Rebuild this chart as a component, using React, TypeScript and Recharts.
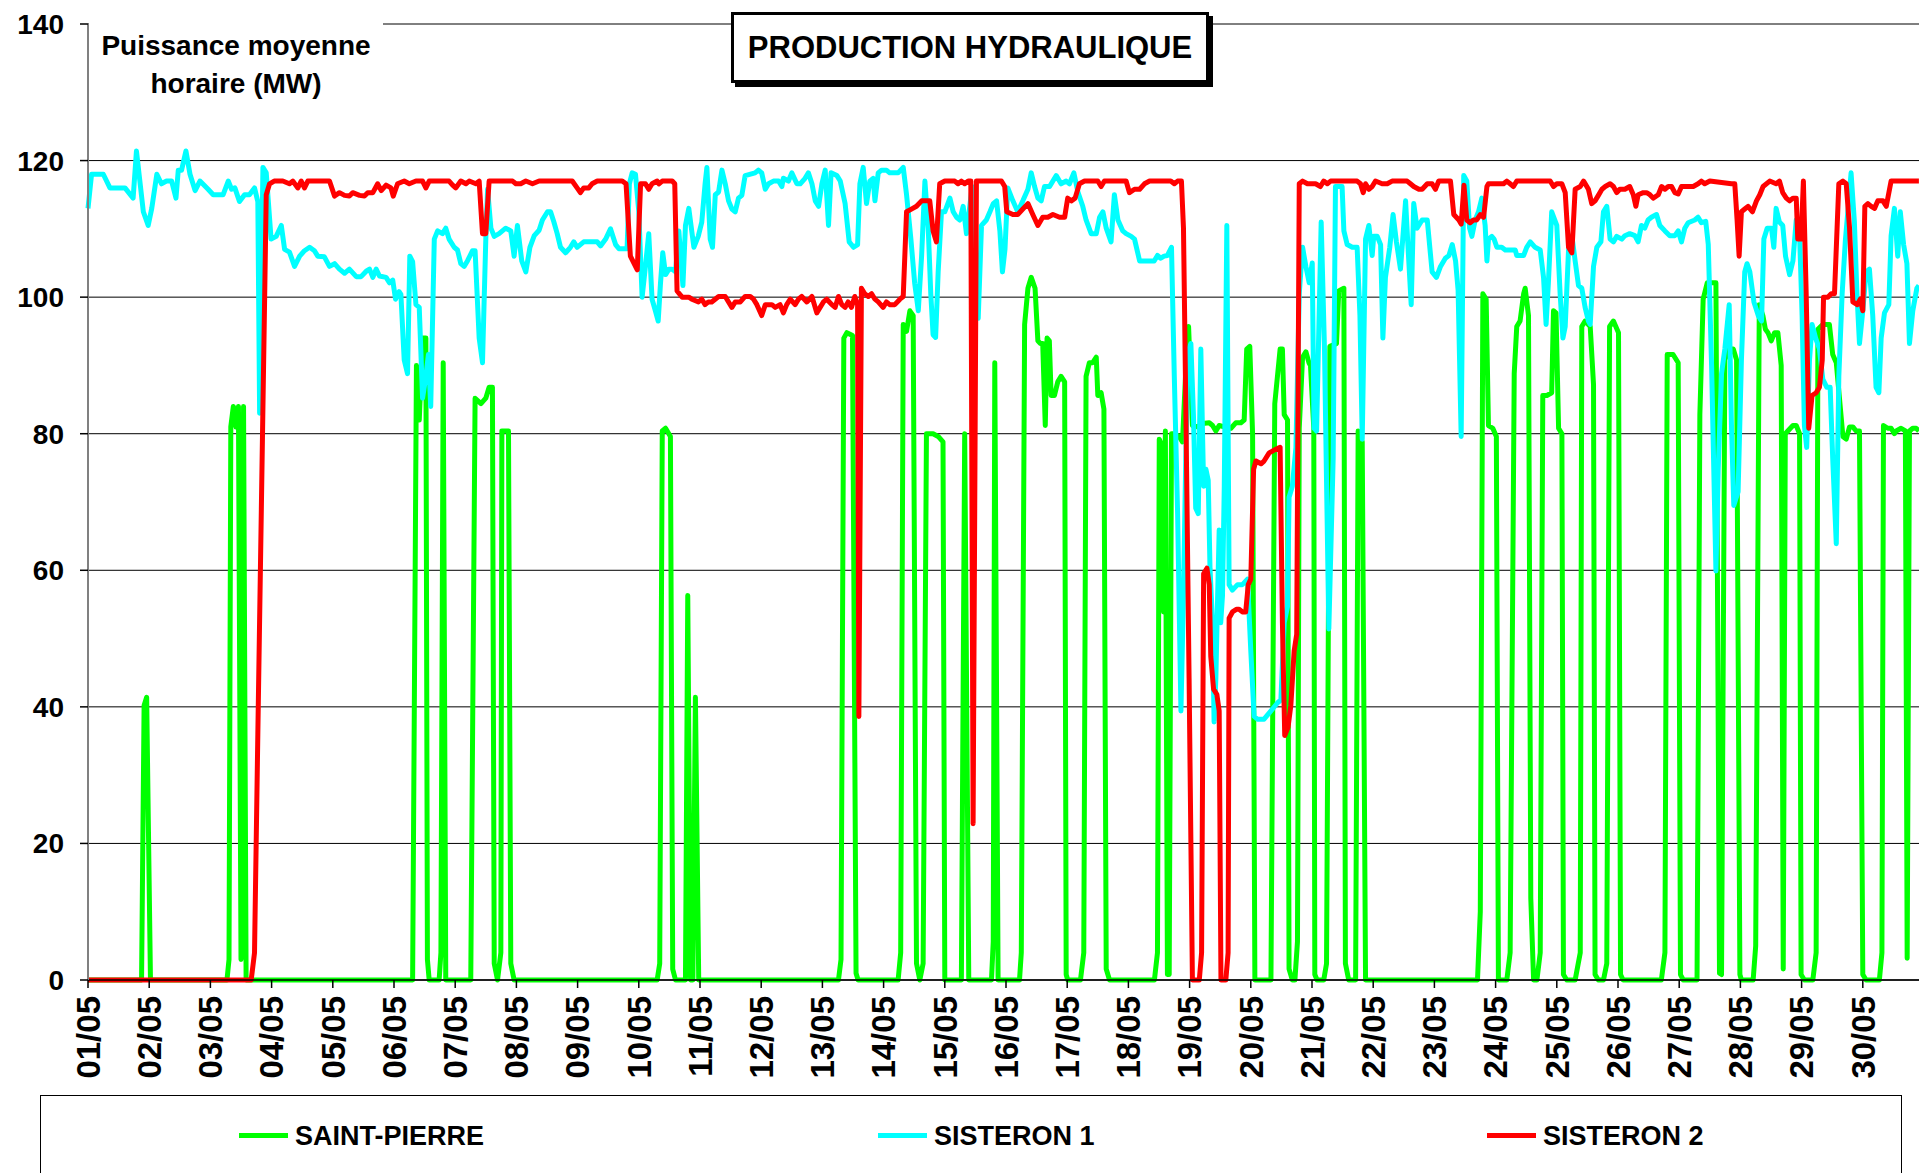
import * as React from 'react';
import { LineChart, Line, XAxis, YAxis, CartesianGrid } from 'recharts';

// hours since 01/05 00:00 -> MW
const saintPierre: [number, number][] = [
  [0, 0], [21, 0], [22, 40.2], [23, 41.4], [24.5, 0], [54.5, 0], [55.3, 3], [56, 81], [57, 84], [58, 81], [59, 84], [60, 3], [61, 84], [62, 0],
  [127.3, 0], [128.8, 90], [129.9, 82], [131.2, 94], [132.5, 94], [133.1, 3], [133.8, 0], [137.7, 0], [138.4, 4], [139.3, 90.4], [140.3, 0],
  [150.1, 0], [151.8, 85.2], [154.1, 84.4], [156, 85.2], [157.3, 86.8], [158.6, 86.8], [159.3, 2.4], [160.6, 0], [161.9, 4], [162.3, 80.4], [164.9, 80.4], [165.8, 2.4], [167.1, 0],
  [223.2, 0], [224.2, 2.4], [225.2, 80.4], [226.5, 80.8], [228.4, 79.6], [229.3, 1.6], [230.4, 0], [234.3, 0], [235.2, 56.3], [236.3, 0], [237.2, 0], [238.2, 41.4], [239.5, 0],
  [294.3, 0], [295.3, 3], [296.4, 94], [297.6, 94.8], [299.8, 94.4], [301.2, 1], [302, 0],
  [317.7, 0], [318.7, 4], [319.7, 96], [321, 95], [322.3, 98], [323.6, 97.3], [324.9, 2.4], [326.2, 0], [327.5, 2.4], [328.8, 80], [331.4, 80], [333.4, 79.6], [335.3, 78.8], [336, 0],
  [342.5, 0], [343.8, 80], [345.4, 0], [354.3, 0], [355, 5.6], [355.6, 90.4], [356.9, 0],
  [365.3, 0], [366, 4], [367.3, 96], [368.6, 101.3], [369.9, 102.9], [371.4, 101.3], [372.5, 93.6], [373.5, 93.2], [374.4, 93.2], [375.4, 81.2], [376.1, 94], [377, 93.6], [377.7, 85.6], [379, 85.6], [380.3, 87.6], [381.6, 88.4], [383, 87.6], [383.6, 0.8], [384.2, 0],
  [389.2, 0], [390.5, 4], [391.4, 88.4], [392.7, 90.4], [394, 90.4], [395.4, 91.2], [396, 85.6], [397.3, 86], [398.4, 83.6], [399.3, 1.6], [400.6, 0],
  [418.2, 0], [419.4, 4], [420.1, 79.2], [421, 78.4], [421.8, 53.9], [422.5, 80.4], [423.3, 0.8], [424, 0.8], [424.9, 80], [426, 80], [427.9, 79.6], [429.2, 78.8], [430.6, 90], [431.6, 95.7], [433.1, 81.2],
  [435.1, 81], [437.1, 81.5], [439.7, 81.6], [441, 81.2], [442.3, 80.4], [443.6, 81.2], [445.6, 81], [448.2, 80.8], [450.1, 81.6], [452.1, 81.6], [453.4, 82], [454.4, 92.4], [455.6, 92.8], [456.7, 80], [457.6, 0],
  [463.9, 0], [465.4, 84.4], [467.5, 92.4], [468.4, 92.4], [469.1, 82.8], [470.4, 82], [471, 1.6], [472.3, 0], [473.3, 0], [474.3, 5.6], [475, 80.8], [476.3, 91.2], [477.6, 92], [478.8, 90.4], [479.4, 90], [480.7, 80.8], [481.1, 0.8], [482, 0],
  [484.6, 0], [485.7, 2.4], [487, 92.8], [489.6, 93.2], [490.5, 100.9], [492.5, 101.3], [493.1, 2.4], [494.4, 0], [497.1, 0], [498.1, 80.4], [499.7, 78.8], [501, 0],
  [544.9, 0], [546, 10], [547, 100.5], [548.3, 99.7], [549.2, 81.2], [550.9, 80.8], [552.3, 79.6], [553.1, 0], [556.4, 0], [557.7, 4], [559.3, 88.8], [560.3, 95.7], [561.6, 96.5], [563, 100.5], [563.6, 101.3], [564.9, 97.3], [565.8, 12], [566.9, 0],
  [568.2, 0], [569.5, 4], [570.5, 85.6], [572.1, 85.6], [574, 86], [574.7, 98], [575.7, 97.7], [576.7, 80.8], [578, 80], [578.6, 0.8], [579.9, 0], [583.2, 0], [585.2, 4], [585.8, 95.7], [587.1, 96.5], [589.1, 95.7], [590.4, 87.2], [591, 0.8], [592.3, 0],
  [594.3, 0], [595.6, 2.4], [596.7, 95.7], [598.2, 96.5], [600.2, 94.8], [601, 0.8], [602, 0], [617, 0], [618.4, 4], [619.3, 91.6], [621.6, 91.6], [623.6, 90.4], [624.5, 0.8], [625.6, 0],
  [631, 0], [632.1, 82.8], [633.4, 99.7], [635, 102.1], [638.4, 102.1], [639.8, 1], [640.6, 0.8], [641.9, 90.8], [643.2, 92.4], [645.2, 92.4], [646.5, 90.8], [647.8, 0.8], [648.4, 0], [653, 0], [654, 5],
  [655.4, 98.9], [656.8, 97.3], [657.8, 95.3], [658.8, 94.8], [660.1, 93.6], [661.4, 94.8], [662.7, 94.8], [664, 90], [664.8, 1.6], [665.6, 80], [666.6, 80.4], [668.6, 81.2], [669.9, 81.2], [671.2, 80], [671.8, 0.8], [673.1, 0],
  [676.4, 0], [677.7, 4], [678.4, 95.3], [680.3, 96], [682.9, 96], [684.2, 91.6], [685.6, 90.4], [688.2, 79.6], [689.5, 79.2], [690.8, 81], [692.1, 81], [693.4, 80.4], [694.7, 80.4], [696, 0.8], [697.3, 0],
  [702.5, 0], [703.5, 4], [704.1, 81.2], [705.8, 80.8], [707.1, 80.8], [708.4, 80], [709.1, 80.4], [711, 80.8], [712.7, 80.4], [713.4, 3.2], [714.3, 80.4], [715.6, 80.8], [716.9, 80.8], [718, 80.4],
];

const sisteron1: [number, number][] = [
  [0, 113], [1.4, 118], [6, 118], [8.6, 116], [14.5, 116], [17.7, 114.5], [19, 121.4], [21.7, 112.5], [23.6, 110.5], [25, 113], [27, 118], [28.8, 116.6], [30.8, 117], [32.8, 117], [34.5, 114.5], [35.4, 118.6], [36.7, 118.6], [38.4, 121.4], [40, 118], [42, 115.6], [43.9, 117], [47.1, 115.8], [49.1, 115], [53, 115], [55, 117], [56.3, 115.8], [57.6, 116],
  [59.4, 114], [61.4, 115], [63.3, 115], [65.3, 116], [66.6, 114], [67.3, 83], [68.6, 119], [69.9, 118.2], [71.8, 108.5], [73.8, 108.9], [75.8, 110.5], [77.1, 107], [79, 106.6], [81, 104.5], [83, 106], [84.9, 106.8], [86.9, 107.3], [88.8, 106.8], [90.1, 106], [92.7, 105.9], [94.7, 104.5],
  [96.7, 104.9], [98.6, 104.1], [100.6, 103.5], [102.5, 104.1], [105.2, 103], [107.1, 103], [109.1, 103.8], [110.4, 104.1], [111.7, 102.9], [113, 104.1], [114.3, 103.1], [116.9, 102.9], [118.2, 102.1], [119.5, 102.5], [120.6, 99.7],
  [122, 100.8], [122.7, 100.4], [124, 90.8], [125.3, 88.8], [126.2, 106], [127.3, 105.2], [128.6, 98.9], [129.9, 98.5], [131.2, 85.2], [132.5, 88.4], [133.5, 91.6], [134.4, 84], [135.8, 108.5], [137.1, 109.7], [139, 109.3], [140.3, 110.1], [141.6, 108.5], [143.6, 107.3], [144.9, 106.9], [146.2, 104.9], [147.5, 104.5], [148.8, 105.3],
  [150.8, 106.8], [151.8, 106.8], [153.4, 94], [154.7, 90.4], [156, 108.5], [156.7, 115.8], [158, 110.1], [159.3, 108.9], [161.2, 109.3], [162.5, 109.7], [163.8, 110.1], [165.8, 109.7], [167.1, 106], [168.4, 110.5], [170.1, 105.3], [171.7, 103.7], [173.3, 107.3], [175, 109], [176.9, 109.8], [178.2, 111.3], [180.2, 112.5],
  [181.4, 112.5], [182.7, 111], [184, 109.3], [185.3, 107.3], [187.3, 106.5], [189.2, 107.3], [190.5, 108.1], [191.8, 107.3], [193.1, 107.7], [194.4, 108.1], [199.7, 108.1], [201, 107.5], [203, 108.5], [204.9, 110], [206.9, 107.7], [208.2, 107.1], [211.4, 107.1], [212.3, 116.6], [213.4, 118.2], [214.7, 118],
  [216, 112.5], [217.3, 100], [218.6, 104.5], [219.9, 109.3], [221.2, 99.7], [222.5, 98], [223.6, 96.5], [224.5, 102], [225.4, 106.5], [226.5, 103.3], [227.8, 104.1], [229.1, 104.1], [230.4, 103.7], [231.7, 109.7], [233.3, 101.7], [234.3, 110.5], [235.6, 113], [237.6, 107.3], [239.3, 108.9], [240.7, 111], [242, 116.6], [242.7, 119],
  [244, 108.5], [244.9, 107.3], [246, 115], [247.3, 115.4], [248.6, 118.6], [249.9, 116.6], [251.2, 114.1], [252.5, 112.9], [253.8, 112.5], [255.1, 114.5], [256.4, 114.9], [257.7, 117.8], [261.6, 118.2], [262.9, 118.6], [264.2, 118.2], [265.6, 115.8], [266.9, 116.6], [268.8, 117], [270.8, 117], [272.1, 116.2], [272.7, 117.4],
  [274.7, 117], [276, 118.2], [278, 116.6], [279.3, 116.6], [281.2, 117.4], [282.5, 118.2], [283.9, 116.6], [285.2, 114.1], [286.5, 113.3], [287.8, 116.6], [289.1, 118.6], [290.4, 110.5], [291.4, 118.2], [293.7, 117.8], [295, 117], [296.9, 113.7], [298.5, 108.1], [300.2, 107.3], [301.8, 107.7],
  [302.7, 116.6], [304, 119], [305.3, 113.7], [306.6, 117], [307.9, 117.4], [308.6, 114.1], [309.9, 118.2], [311.2, 118.6], [313.1, 118.6], [314.4, 118.2], [317.7, 118.2], [319.7, 119], [321, 115], [322.7, 108.5], [324.2, 102], [325.6, 98], [326.9, 106], [328.2, 117], [329.5, 110.1], [330.5, 100.5], [331.4, 94.5], [332.4, 94.1],
  [333.4, 103.7], [334.7, 112.5], [336, 112.5], [338, 114.5], [339.3, 112.5], [340.6, 111.7], [341.9, 111.3], [343.2, 113.3], [344.5, 109.3], [345.8, 113.3], [346.7, 116.2], [347.8, 108.5], [349.1, 96.9], [350.4, 110.5], [352.3, 111.3], [353.7, 112.5], [355, 113.7], [356.3, 114.1], [357.6, 109.7], [358.6, 103.7], [359.6, 107],
  [360.7, 116], [362.7, 114.1], [364.6, 112.5], [366.6, 114.1], [368.6, 115.8], [369.9, 118.2], [371.2, 116.2], [372.5, 114.5], [373.8, 114.1], [375.1, 116.2], [377.1, 116.2], [378.4, 117], [379.7, 117.8], [381.6, 116.6], [383.6, 117], [384.9, 116.6], [386.6, 118.2], [388.2, 115.4], [390.1, 113.3], [391.4, 111.3],
  [393.4, 109.3], [395.4, 109.3], [396.7, 111.7], [398, 112.5], [399.3, 110.1], [401.2, 108.1], [402.5, 115], [403.9, 111.3], [405.8, 109.7], [407.1, 109.3], [409.1, 108.9], [410.4, 108.5], [412.4, 105.3], [414.3, 105.3], [416.3, 105.3], [418.1, 105.3], [419.4, 106.1], [420.7, 105.7], [422, 106], [423.3, 106.1], [424.9, 107.3],
  [426, 88.4], [427.3, 68.3], [428.6, 39.4], [429.5, 54.7], [430.5, 76.4], [431.4, 92], [432.5, 93.2], [433.5, 82.8], [434.4, 69.1], [435.4, 68.3], [436.4, 92.4], [437.5, 72.3], [438.4, 74.8], [439.3, 73.2], [440, 60.3], [441, 52.3], [441.6, 37.8], [442.3, 44.2], [443, 56.3], [443.6, 65.9], [444.2, 52.3], [444.9, 56.3], [445.6, 72.3],
  [446.6, 110.5], [447.5, 57.9], [448.8, 57.1], [450.8, 57.9], [452.7, 57.9], [454.7, 58.7], [456, 48.2], [457.3, 38.6], [458.6, 38.2], [461.2, 38.2], [463.9, 39.4], [466.5, 40.6], [467.8, 41], [469.1, 52.3], [470.4, 54.7], [471, 70.7], [472.3, 72.3], [473.7, 78], [475, 100.5], [476.3, 107.3], [477.6, 104.5], [478.9, 102.1], [480.1, 105],
  [480.8, 80.8], [481.8, 80.4], [483.6, 111], [484.9, 92.4], [486.6, 51.4], [488.3, 76.4], [489.2, 116.2], [491.8, 116.2], [492.5, 109.7], [493.8, 107.7], [495.8, 107.3], [497.7, 107.3], [498.8, 97.3], [499.7, 79.2], [501, 108.5], [502.3, 110.5], [503.6, 106.1], [504.2, 108.9], [505.6, 108.9], [506.9, 107.7], [507.8, 94],
  [508.8, 102.9], [510.5, 107.3], [511.8, 112.1], [513.1, 108.1], [514.7, 104.1], [516.7, 114.1], [517.6, 107.7], [518.9, 98.9], [519.9, 113.7], [521.2, 110.1], [523.2, 111.3], [525.2, 111.3], [527.1, 103.7], [528.8, 102.9], [530.4, 104.5], [532.3, 105.7], [533.7, 106.1], [535, 107.7], [536.3, 105.3], [537.3, 101],
  [538.5, 79.6], [539.5, 117.8], [540.7, 117], [541.8, 110.1], [542.7, 108.9], [544, 111.3], [545.3, 112.5], [546.6, 114.5], [547.9, 110.5], [548.6, 105.3], [549.2, 108.5], [550.5, 108.9], [551.4, 108.5], [552.5, 107.3], [554.4, 107.3], [555.8, 106.9], [559.7, 106.9], [560.3, 106.1], [563, 106.1], [564.2, 107.3], [565.6, 108.1],
  [567.5, 107.3], [569.5, 106.9], [570.8, 102.9], [571.8, 96], [572.7, 102.1], [574, 112.5], [576, 110.5], [577.3, 100.5], [578.4, 94], [579.3, 95.7], [580.6, 106.9], [581.9, 109], [583.2, 105.3], [584.5, 101.7], [585.8, 101.3], [587.1, 98.5], [588.4, 96.5], [589.1, 96], [590.4, 104.5], [591.7, 107.3], [593.3, 108.1],
  [594.3, 112.5], [595.6, 113.3], [596.9, 108.5], [598.2, 108.1], [599.5, 108.9], [601.5, 108.5], [602.7, 109], [604.6, 109.3], [606.6, 109], [607.9, 108.1], [609.2, 110.5], [610.5, 110.1], [611.8, 111.3], [613.1, 111.7], [615.1, 112.1], [616.4, 110.5], [618.4, 109.7], [620.3, 109], [622.3, 109], [623.6, 109.7], [624.9, 108.1],
  [626.2, 110.1], [627.5, 110.9], [630.1, 111.3], [631.4, 111.7], [632.7, 110.9], [634.4, 111.1], [635.4, 107.7], [636.7, 90], [638.4, 59.9], [639.3, 74.8], [640.6, 88.8], [641.9, 92.4], [643.6, 98.9], [644.5, 81.2], [645.4, 69.5], [647.1, 71.5], [648.4, 90.8], [649.7, 103.7], [650.6, 104.9], [651.7, 103.7], [653.3, 99.3],
  [655, 97.3], [656.3, 96.5], [657.2, 108.5], [658.5, 110.1], [660.2, 110.1], [661.1, 107.3], [662, 113], [663.3, 111], [664.6, 110.5], [665.7, 106], [667.3, 103.3], [668.6, 105.3], [669.9, 111.3], [671.2, 109.3], [672.2, 97.3], [673.1, 81.2], [674, 78], [675.1, 90.8], [676.1, 96], [677.5, 94], [679, 92.4], [680.3, 88],
  [681.9, 86.8], [683.2, 86.8], [684.2, 76.4], [685.6, 63.9], [686.6, 88.4], [687.9, 100.5], [689.2, 108.5], [690.5, 114.1], [691.4, 118.2], [692.7, 111], [693.7, 100.5], [694.7, 93.2], [696, 98], [697.3, 103.7], [698.6, 104.1], [699.9, 97.3], [701.2, 86.8], [702.3, 86], [703.2, 94], [704.5, 97.7], [706.2, 98.9],
  [707.1, 109], [708.4, 113], [709.7, 106], [710.7, 112.5], [712, 107.7], [713.3, 104.9], [714.3, 93.2], [715.6, 98], [717.2, 101.3], [718, 101.7],
];

const sisteron2: [number, number][] = [
  [0, 0], [64, 0], [65.3, 4], [66.6, 36], [69.9, 115], [71.2, 116.6], [73, 117], [76.4, 117], [79, 116.6], [80.3, 117], [82.3, 116], [83.6, 117], [84.9, 116], [86.2, 117], [94.7, 117],
  [96.7, 114.8], [98.6, 115.3], [100.6, 114.9], [102.5, 114.8], [103.8, 115.3], [106.5, 114.9], [108.4, 114.8], [109.7, 115.3], [111.7, 115.3], [113.6, 116.6], [115, 115.6], [116.9, 116.4], [118.8, 116], [119.7, 114.8], [121.4, 116.6],
  [124, 117], [126, 116.6], [128.6, 117], [131.2, 117], [132.5, 116], [133.8, 117], [141.6, 117], [143, 116.4], [144.2, 116], [146.2, 117], [148.2, 116.6], [149.5, 117], [152.1, 116.6], [153.4, 117], [154.7, 109.3], [156, 109.3], [157.3, 117],
  [166.5, 117], [167.8, 116.6], [169.7, 116.6], [171.7, 117], [174.3, 116.6], [176.9, 117], [189.9, 117], [191.8, 116], [193.1, 115.3], [194.4, 116], [196.4, 116], [197.7, 116.6], [199.7, 117], [209.5, 117], [211, 116.6], [212.7, 106], [215.4, 104],
  [216.7, 116.6], [218.6, 116.6], [219.9, 115.8], [221.2, 116.6], [223.2, 117], [223.9, 116.6], [225.2, 117], [229.1, 117], [230.1, 116.6], [231, 100.9], [233, 100], [235.6, 100], [236.8, 99.7], [239.4, 99.3], [240.7, 99.7], [242, 98.9],
  [243.3, 99.3], [244.6, 99.3], [247.3, 100.1], [249.9, 100.1], [251.2, 99.3], [252.5, 98.5], [253.8, 99.3], [255.8, 99.3], [257.7, 100.1], [259.7, 100.1], [261, 99.7], [262.3, 98.9], [264.2, 97.3], [265.6, 98.9], [268.2, 98.9], [269.5, 98.5],
  [271.4, 98.9], [272.7, 97.7], [274, 98.9], [275.4, 99.7], [277.3, 98.9], [278.6, 99.7], [279.9, 100.1], [281.9, 99.3], [283.9, 100.1], [285.8, 97.7], [287.1, 98.5], [288.4, 99.3], [289.7, 99.7], [291.7, 98.9], [293, 98.5], [294.3, 100.1],
  [295.6, 98.9], [296.9, 98.5], [298.1, 99.3], [299.4, 98.5], [300.7, 100.1], [301.8, 98.9], [302.3, 38.6], [303.3, 101.3], [304.6, 100.5], [306, 100.1], [307.3, 100.5], [308.6, 99.7], [309.9, 99.3], [311.8, 98.5], [313.1, 99.3], [314.4, 98.9],
  [316.4, 98.9], [318.4, 99.7], [319.7, 100.1], [321, 112.5], [322.9, 112.9], [324.9, 113.3], [326.9, 114.1], [330.1, 114.1], [331.4, 109.7], [332.7, 108.1], [334, 116.6], [336, 117], [339.9, 117], [341.2, 116.6], [342.5, 117], [343.8, 116.6],
  [345.2, 117], [346.2, 117], [347.1, 22.9], [348.4, 117], [358.2, 117], [359.5, 116.2], [360.3, 112.5], [362.7, 112.1], [364.6, 112.1], [366.6, 112.9], [368.6, 113.7], [370.5, 112.1], [372.5, 110.5], [374.4, 111.7], [376.4, 111.7],
  [378.4, 112.1], [381, 111.7], [383, 111.7], [384.2, 114.5], [385.6, 114.1], [387.1, 114.5], [388.8, 116.6], [390.8, 117], [396, 117], [397.3, 116.2], [398.6, 117], [407.1, 117], [408.4, 115.3], [410.4, 115.8], [412.4, 115.8], [414.3, 116.6],
  [416.3, 117], [424.6, 117], [426, 116.6], [427.3, 117], [428.8, 117], [429.6, 110.1], [430.5, 84.4], [431.8, 44.2], [433.1, 0], [435.8, 0], [436.7, 4], [437.5, 59.5], [438.8, 60.3], [439.7, 57.9], [440.3, 47.4], [441.4, 42.6], [442.7, 41.8],
  [443.6, 39.4], [444.3, 0], [446.2, 0], [447.1, 4], [447.5, 53], [448.8, 53.9], [450.5, 54.3], [451.4, 54.3], [452.7, 53.9], [454, 53.9], [455, 57.9], [456, 58.7], [457.1, 74.8], [458, 76], [460, 75.6], [461.2, 76], [463.2, 77.2], [465.2, 77.6],
  [467.5, 78], [468.4, 52.3], [469.3, 35.8], [470.6, 37], [471.7, 40.2], [473, 48.2], [474, 50.6], [475, 116.6], [476.3, 117], [478.2, 116.6], [481.4, 116.6], [483.3, 116.2], [484.6, 117], [486, 116.6], [487.3, 117], [497.7, 117], [499, 116.6],
  [500.1, 115.3], [501, 116.6], [502.3, 115.8], [503.6, 116.2], [504.9, 117], [507.5, 116.6], [509.5, 116.6], [511.4, 117], [517.3, 117], [518.6, 116.6], [519.9, 116.2], [521.9, 115.8], [523.2, 115.8], [525.2, 116.6], [527.1, 116.6], [528.4, 115.8],
  [529.7, 117], [534.3, 117], [535.6, 112.1], [537.6, 111.3], [538.5, 110.7], [539.6, 116.4], [540.7, 111.3], [542, 110.9], [543.3, 111.3], [544.6, 111.3], [546, 112.1], [547.3, 111.7], [548.6, 116.2], [549.2, 116.6], [555.1, 116.6], [556.4, 117],
  [557.7, 116.6], [559, 116.2], [560.3, 117], [573.4, 117], [574.7, 116.2], [576, 116.6], [578, 116.6], [579.3, 115.3], [580.6, 107.3], [581.9, 106.5], [583.2, 115.8], [585.2, 116.2], [586.5, 117], [588.4, 115.8], [589.7, 113.7], [591, 114.1],
  [592.3, 114.9], [593.7, 115.8], [595, 116.2], [596.9, 116.6], [598.2, 116.2], [599.5, 115.3], [600.7, 115.8], [602.7, 115.8], [604.6, 116.2], [606, 115], [607, 113.3], [607.9, 115], [609.9, 115.3], [611.2, 115.3], [612.5, 115], [613.8, 114.5],
  [615.8, 115], [617.1, 116.2], [618.4, 115.8], [619.7, 116.2], [621, 116.2], [622.3, 115.3], [623.6, 115.1], [624.9, 116.2], [629.5, 116.2], [631.4, 116.6], [632.7, 117], [634, 116.6], [636, 117], [644.5, 116.6], [645.8, 116.6], [646.7, 111.3],
  [647.5, 106], [648.4, 112.5], [649.7, 112.9], [651, 113.3], [652.7, 112.5], [654.3, 114.1], [655.6, 115], [656.9, 116.2], [659.5, 117], [662, 116.6], [663.3, 117], [664.6, 115.3], [666, 114.5], [667.3, 114.1], [668.6, 114.5], [669.9, 114.5],
  [670.5, 108.5], [671.8, 108.5], [672.7, 117], [673.8, 100.5], [674.8, 80.8], [676.1, 85.6], [677.7, 86], [679, 86.8], [680.1, 90.8], [680.6, 100], [682.3, 100], [683.6, 100.5], [684.9, 100.5], [686.6, 116.6], [688.2, 117], [689.5, 116.6],
  [690.8, 110.1], [692.1, 99.3], [693.8, 98.9], [695, 99.7], [696, 98], [696.8, 113.3], [698, 113.7], [699.3, 113.3], [700.6, 113], [701.9, 114.1], [703.9, 114.1], [705.2, 113.3], [707.1, 117], [709.1, 117], [718, 117],
];

const dayLabels = [
  '01/05', '02/05', '03/05', '04/05', '05/05', '06/05', '07/05', '08/05', '09/05', '10/05',
  '11/05', '12/05', '13/05', '14/05', '15/05', '16/05', '17/05', '18/05', '19/05', '20/05',
  '21/05', '22/05', '23/05', '24/05', '25/05', '26/05', '27/05', '28/05', '29/05', '30/05',
];
const powerTicks = [0, 20, 40, 60, 80, 100, 120, 140];

const seriesNames = ['SAINT-PIERRE', 'SISTERON 1', 'SISTERON 2'];
const seriesColors = ['#00ff00', '#00ffff', '#ff0000'];

const FONT = '"Liberation Sans", Arial, Helvetica, sans-serif';

const toRows = (pts: [number, number][]) => pts.map(([t, v]) => ({ t, v }));

function DayTick({ x, y, payload }: any) {
  const label = dayLabels[Math.round(payload.value / 24)] ?? '';
  return (
    <g transform={`translate(${x},${y})`}>
      <text
        transform="rotate(-90)"
        x={-6}
        y={0}
        dy="0.36em"
        textAnchor="end"
        fontSize={33}
        fontWeight="bold"
        fontFamily={FONT}
        fill="#000"
      >
        {label}
      </text>
    </g>
  );
}

const legendPos = [
  { line: 239, text: 295 },
  { line: 878, text: 934 },
  { line: 1487, text: 1543 },
];

export default function App() {
  const series = [saintPierre, sisteron1, sisteron2];
  const dayTicks = dayLabels.map((_, i) => i * 24);

  return (
    <div
      style={{
        position: 'fixed',
        left: 0,
        top: 0,
        width: 1919,
        height: 1173,
        overflow: 'hidden',
        background: '#fff',
        fontFamily: FONT,
      }}
    >
      <LineChart width={1930} height={1173} margin={{ top: 24, right: 6, bottom: 93, left: 0 }}>
        <CartesianGrid horizontal vertical={false} stroke="#000" strokeWidth={1} />
        <XAxis
          type="number"
          dataKey="t"
          domain={[0, 720]}
          ticks={dayTicks}
          interval={0}
          height={100}
          tick={<DayTick />}
          tickSize={8}
          axisLine={{ stroke: '#000', strokeWidth: 1.5 }}
          tickLine={{ stroke: '#000', strokeWidth: 1.5 }}
        />
        <YAxis
          type="number"
          domain={[0, 140]}
          ticks={powerTicks}
          interval={0}
          width={88}
          tickSize={8}
          tickMargin={16}
          tick={{ fontSize: 28, fontWeight: 'bold', fill: '#000', fontFamily: FONT }}
          axisLine={{ stroke: '#808080', strokeWidth: 2 }}
          tickLine={{ stroke: '#000', strokeWidth: 1.5 }}
        />
        {series.map((pts, i) => (
          <Line
            key={seriesNames[i]}
            data={toRows(pts)}
            dataKey="v"
            name={seriesNames[i]}
            type="linear"
            stroke={seriesColors[i]}
            strokeWidth={5}
            strokeLinejoin="round"
            dot={false}
            activeDot={false}
            isAnimationActive={false}
          />
        ))}
      </LineChart>

      {/* axis caption in its white box */}
      <div
        style={{
          position: 'absolute',
          left: 89,
          top: 10,
          width: 294,
          height: 90,
          background: '#fff',
          boxSizing: 'border-box',
          paddingTop: 17,
          textAlign: 'center',
          fontSize: 28,
          fontWeight: 'bold',
          lineHeight: '38px',
          color: '#000',
        }}
      >
        Puissance moyenne
        <br />
        horaire (MW)
      </div>

      {/* title */}
      <div
        style={{
          position: 'absolute',
          left: 731,
          top: 12,
          width: 472,
          height: 65,
          background: '#fff',
          border: '3px solid #000',
          boxShadow: '4px 4px 0 #000',
          display: 'flex',
          alignItems: 'center',
          justifyContent: 'center',
          fontSize: 31,
          fontWeight: 'bold',
          color: '#000',
        }}
      >
        PRODUCTION HYDRAULIQUE
      </div>

      {/* legend */}
      <div
        style={{
          position: 'absolute',
          left: 40,
          top: 1095,
          width: 1860,
          height: 120,
          border: '1.5px solid #000',
          background: '#fff',
        }}
      />
      {seriesNames.map((name, i) => (
        <React.Fragment key={name}>
          <div
            style={{
              position: 'absolute',
              left: legendPos[i].line,
              top: 1133,
              width: 49,
              height: 5,
              background: seriesColors[i],
            }}
          />
          <div
            style={{
              position: 'absolute',
              left: legendPos[i].text,
              top: 1119,
              fontSize: 27,
              fontWeight: 'bold',
              lineHeight: '34px',
              color: '#000',
              whiteSpace: 'nowrap',
            }}
          >
            {name}
          </div>
        </React.Fragment>
      ))}
    </div>
  );
}
